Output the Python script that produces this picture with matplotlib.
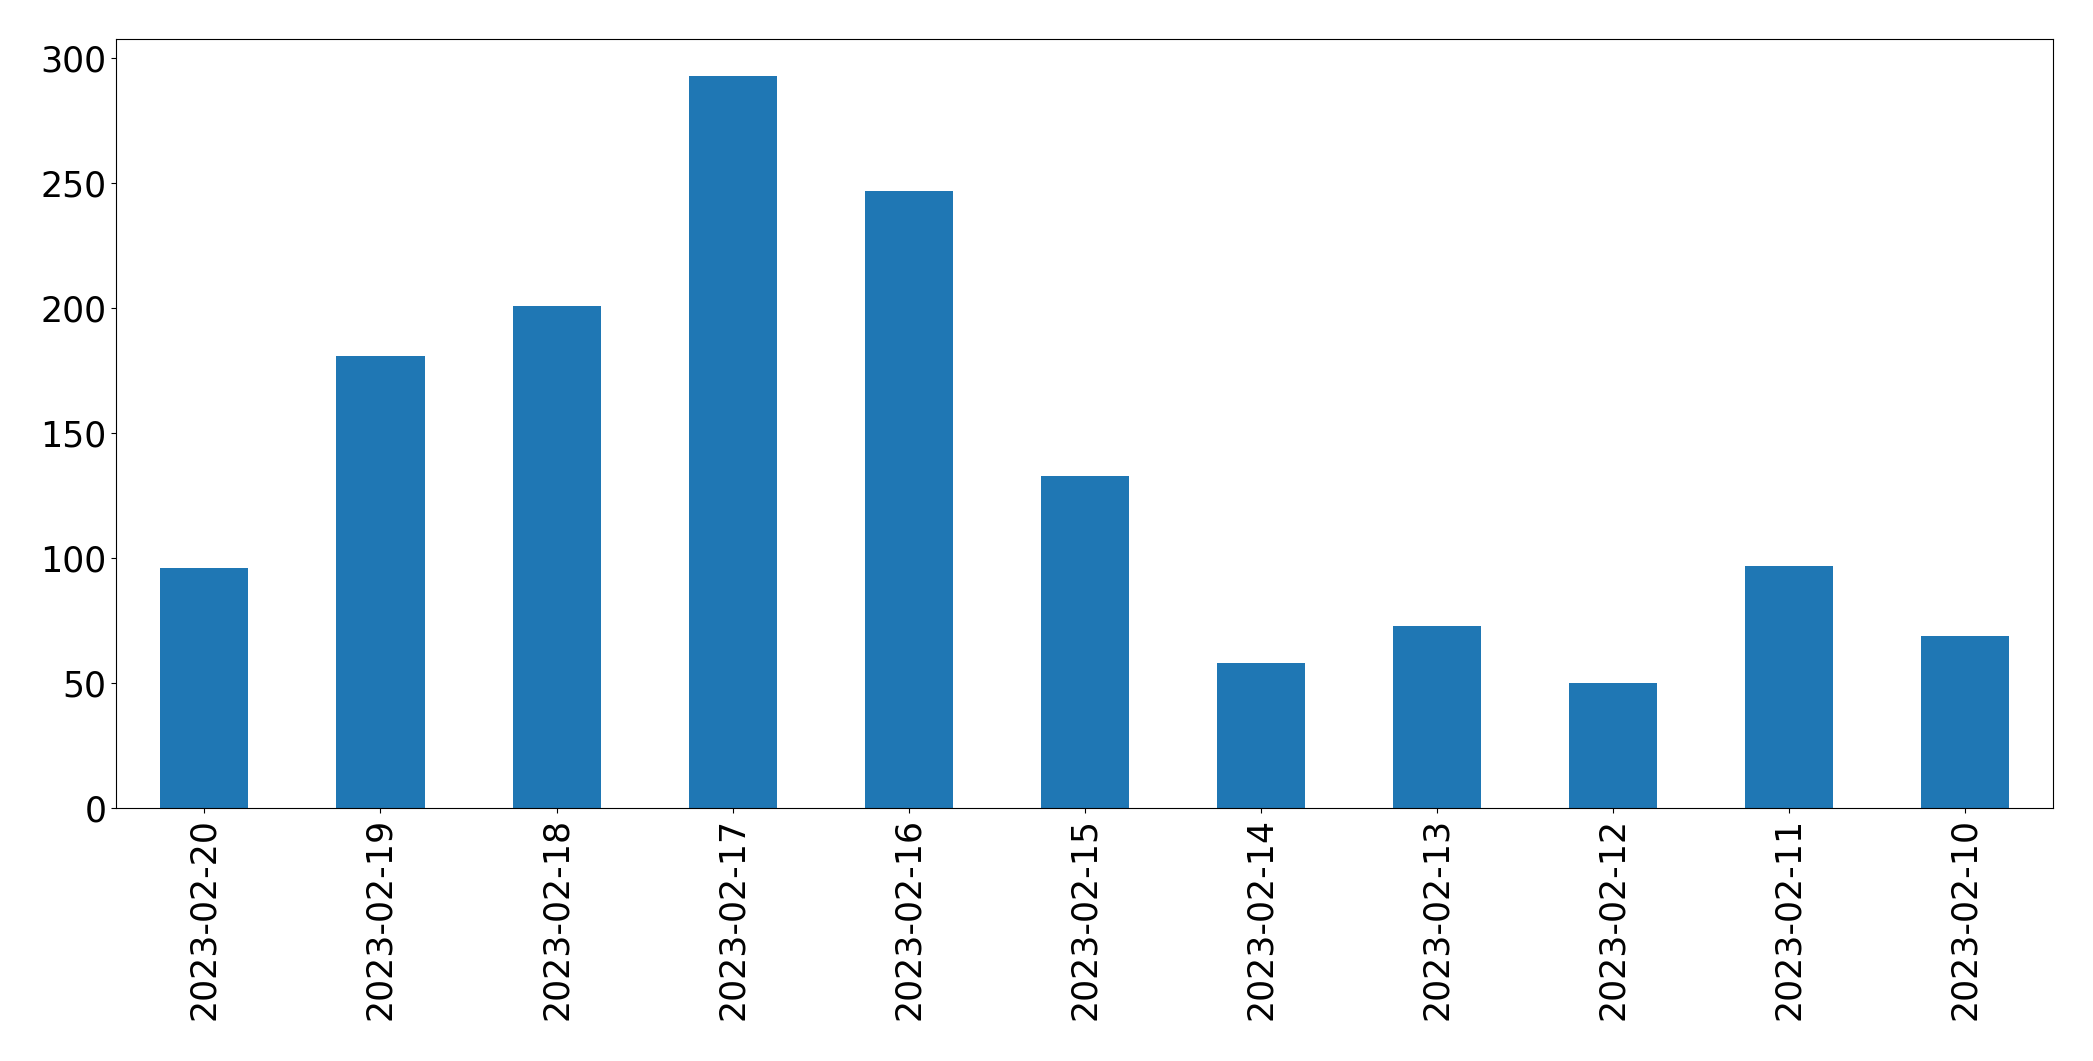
import matplotlib
matplotlib.use('Agg')
import matplotlib.pyplot as plt
import pandas as pd

# daily counts, newest first (as in the original)
dates = ['2023-02-20', '2023-02-19', '2023-02-18', '2023-02-17', '2023-02-16',
         '2023-02-15', '2023-02-14', '2023-02-13', '2023-02-12', '2023-02-11',
         '2023-02-10']
counts = [96, 181, 201, 293, 247, 133, 58, 73, 50, 97, 69]

s = pd.Series(counts, index=dates)

fig, ax = plt.subplots(figsize=(20.93, 10.61), dpi=100)
s.plot(kind='bar', ax=ax, color='#1f77b4', width=0.5)
ax.tick_params(axis='both', labelsize=25)
ax.set_xticklabels(dates, rotation=90)
ax.set_yticks([0, 50, 100, 150, 200, 250, 300])

fig.subplots_adjust(left=0.0556, right=0.981, top=0.963, bottom=0.238)
fig.savefig('out.png', dpi=100)
